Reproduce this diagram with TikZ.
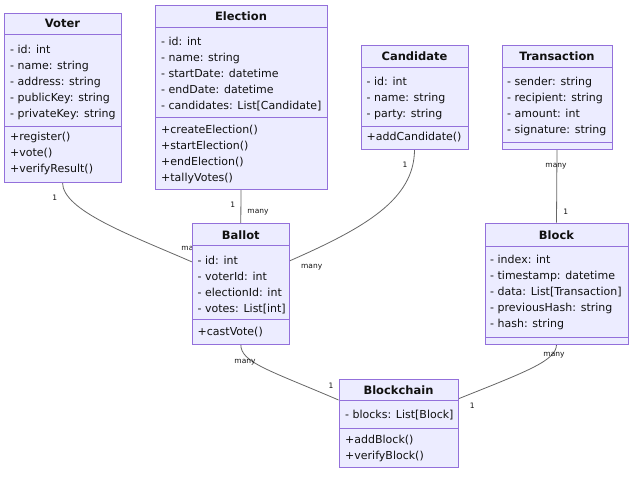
\documentclass[tikz,border=0pt]{standalone}
\usepackage{fontspec}
\setmainfont{DejaVu Sans}
\usetikzlibrary{fit,backgrounds}

\definecolor{umlfill}{HTML}{ECECFF}
\definecolor{umlborder}{HTML}{9370DB}
\definecolor{umlline}{HTML}{666666}
\definecolor{umltext}{HTML}{111111}

\tikzset{
  classbox/.style={draw=umlborder, fill=umlfill, line width=0.9pt, inner sep=0pt},
  classtitle/.style={font=\bfseries\fontsize{11.5}{13}\selectfont, text=umltext},
  members/.style={anchor=north west, inner sep=0pt, align=left, text=umltext,
    font=\fontsize{11}{16}\selectfont},
  divider/.style={draw=umlborder, line width=0.9pt},
  assoc/.style={draw=umlline, line width=0.8pt},
  mult/.style={font=\fontsize{7.5}{9}\selectfont, text=umltext, inner sep=0pt},
}

\begin{document}
\begin{tikzpicture}[x=1pt, y=-1pt]
  \useasboundingbox (0,0) rectangle (640,478);

  % classes
  \node[classbox, fit={(4,13) (121,182)}] (voter) {};
  \draw[divider] (4,34) -- (121,34);
  \draw[divider] (4,126) -- (121,126);
  \node[classtitle] (voterT) at (62.5,23.5) {Voter};
  \node[members] (voterA) at (10,44.5) {- id: int\\- name: string\\- address: string\\- publicKey: string\\- privateKey: string};
  \node[members] (voterM) at (10,131.5) {+register()\\+vote()\\+verifyResult()};

  \node[classbox, fit={(155,5) (327,189)}] (election) {};
  \draw[divider] (155,27) -- (327,27);
  \draw[divider] (155,117) -- (327,117);
  \node[classtitle] (electionT) at (241,16) {Election};
  \node[members] (electionA) at (161,37) {- id: int\\- name: string\\- startDate: datetime\\- endDate: datetime\\- candidates: List[Candidate]};
  \node[members] (electionM) at (161,125) {+createElection()\\+startElection()\\+endElection()\\+tallyVotes()};

  \node[classbox, fit={(361,45) (468,149)}] (candidate) {};
  \draw[divider] (361,67) -- (468,67);
  \draw[divider] (361,126) -- (468,126);
  \node[classtitle] (candidateT) at (414.5,56.5) {Candidate};
  \node[members] (candidateA) at (366.5,76.5) {- id: int\\- name: string\\- party: string};
  \node[members] (candidateM) at (366.5,132) {+addCandidate()};

  \node[classbox, fit={(502,45) (612,149)}] (transaction) {};
  \draw[divider] (502,67) -- (612,67);
  \draw[divider] (502,142) -- (612,142);
  \node[classtitle] (transactionT) at (557,56.5) {Transaction};
  \node[members] (transactionA) at (507,76.5) {- sender: string\\- recipient: string\\- amount: int\\- signature: string};

  \node[classbox, fit={(192.3,223.3) (289.3,344)}] (ballot) {};
  \draw[divider] (192.3,245) -- (289.3,245);
  \draw[divider] (192.3,319.5) -- (289.3,319.5);
  \node[classtitle] (ballotT) at (240.8,235.5) {Ballot};
  \node[members] (ballotA) at (197.5,255.5) {- id: int\\- voterId: int\\- electionId: int\\- votes: List[int]};
  \node[members] (ballotM) at (197.5,326.5) {+castVote()};

  \node[classbox, fit={(485,223) (628,344)}] (block) {};
  \draw[divider] (485,246) -- (628,246);
  \draw[divider] (485,337) -- (628,337);
  \node[classtitle] (blockT) at (556.5,235) {Block};
  \node[members] (blockA) at (490,255) {- index: int\\- timestamp: datetime\\- data: List[Transaction]\\- previousHash: string\\- hash: string};

  \node[classbox, fit={(339,379) (458,467)}] (blockchain) {};
  \draw[divider] (339,400) -- (458,400);
  \draw[divider] (339,428) -- (458,428);
  \node[classtitle] (blockchainT) at (398.5,390) {Blockchain};
  \node[members] (blockchainA) at (345,410) {- blocks: List[Block]};
  \node[members] (blockchainM) at (345,434.5) {+addBlock()\\+verifyBlock()};

  % associations
  \begin{pgfonlayer}{background}
    \draw[assoc] (voter.south) .. controls +(0,28) and +(-62,-27) .. (ballot.156);
    \draw[assoc] (election.south) -- (ballot.north);
    \draw[assoc] (candidate.south) .. controls +(0,50) and +(75,-33) .. (ballot.25);
    \draw[assoc] (transaction.south) -- (block.north);
    \draw[assoc] (ballot.south) .. controls +(0,18) and +(-70,-30) .. (blockchain.159);
    \draw[assoc] (block.south) .. controls +(0,16) and +(70,-28) .. (blockchain.22);

    \node[mult] (voterOne) at (54.7,198) {1};
    \node[mult] (voterMany) at (192,249) {many};
    \node[mult] (electionOne) at (232.7,205) {1};
    \node[mult] (electionMany) at (258,212) {many};
    \node[mult] (candidateOne) at (405,165) {1};
    \node[mult] (candidateMany) at (311.7,266.7) {many};
    \node[mult] (transactionMany) at (556,165.7) {many};
    \node[mult] (transactionOne) at (565.7,211.7) {1};
    \node[mult] (ballotMany) at (245,362) {many};
    \node[mult] (ballotOne) at (331,385.7) {1};
    \node[mult] (blockMany) at (554,355) {many};
    \node[mult] (blockOne) at (472.3,405.7) {1};
  \end{pgfonlayer}
\end{tikzpicture}
\end{document}
